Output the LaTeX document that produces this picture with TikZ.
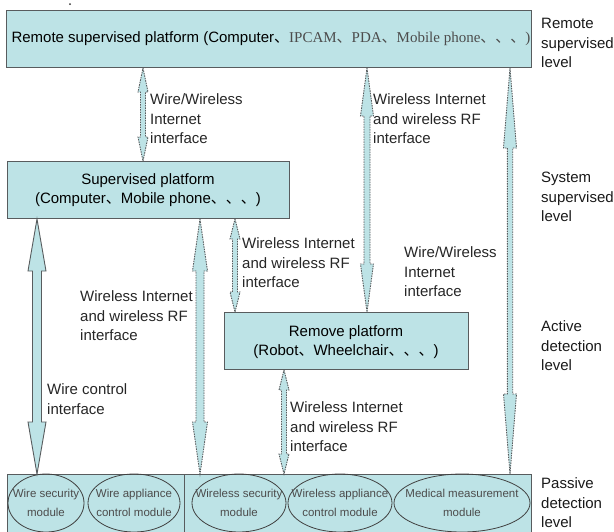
\documentclass[tikz,border=0pt]{standalone}
\usepackage{fontspec}
\setmainfont{Liberation Sans}
\newfontfamily\timespart{Liberation Serif}
\newfontfamily\cjk{Noto Sans CJK SC}
\usetikzlibrary{calc,shapes.geometric}

\definecolor{panel}{RGB}{189,227,230}
\definecolor{edge}{RGB}{88,92,94}

% enumeration comma
\newcommand\dun{{\cjk 、}}

% vertical double-headed block arrow from #2 (upper end) to #3 (lower end)
% #4 half shaft width, #5 half head width, #6 head length
\newcommand\blockarr[6][]{%
  \filldraw[#1] let \p1=#2, \p2=#3 in
    (\x1,\y1) -- (\x1+#5,\y1-#6) -- (\x1+#4,\y1-#6) --
    (\x1+#4,\y2+#6) -- (\x1+#5,\y2+#6) -- (\x1,\y2) --
    (\x1-#5,\y2+#6) -- (\x1-#4,\y2+#6) --
    (\x1-#4,\y1-#6) -- (\x1-#5,\y1-#6) -- cycle;}

\begin{document}
\begin{tikzpicture}[x=1pt,y=-1pt,
  every node/.style={font=\fontsize{15}{19.5}\selectfont, inner sep=0pt},
  panelbox/.style={draw=edge, line width=1pt, fill=panel, anchor=north west, align=center},
  lbl/.style={anchor=west, align=left, text=black!85},
  lvl/.style={anchor=west, align=left, text=black!90},
  dasharr/.style={draw=edge, fill=panel, line width=0.9pt, dash pattern=on 1.5pt off 1pt},
  solidarr/.style={draw=edge, fill=panel, line width=0.9pt},
  moduleshape/.style={ellipse, draw=black!75, line width=0.8pt, minimum height=58},
  moduletext/.style={align=center, text=black!70, font=\fontsize{11.5}{19}\selectfont}
]
\useasboundingbox (0,0) rectangle (614,531);

% stray dot above the top panel
\fill[black!80] (70,4) circle (1pt);

% panels
\node[panelbox, minimum width=525, minimum height=57] (top) at (6,10) {};
\node at (271,39) {Remote supervised platform (Computer\dun{\timespart\color{black!70}IPCAM\dun PDA\dun Mobile phone\dun\dun\dun)}};

\node[panelbox, minimum width=282, minimum height=57] (sup) at (7,161) {};
\node[align=center] at (148,190) {Supervised platform\\(Computer\dun Mobile phone\dun\dun\dun)};

\node[panelbox, minimum width=244, minimum height=57] (rem) at (224,312) {};
\node[align=center] at (346,342) {Remove platform\\(Robot\dun Wheelchair\dun\dun\dun)};

\node[panelbox, minimum width=524, minimum height=70] (field) at (7,474) {};
\draw[edge, line width=1pt] (184,0 |- field.north) -- (184,0 |- field.south);

% detection modules
\node[moduleshape, minimum width=76]  (m1) at (46,503)  {};
\node[moduleshape, minimum width=92]  (m2) at (134,503) {};
\node[moduleshape, minimum width=94]  (m3) at (239,503) {};
\node[moduleshape, minimum width=104] (m4) at (340,503) {};
\node[moduleshape, minimum width=136] (m5) at (462,503) {};
\node[moduletext] at (m1) {Wire security\\module};
\node[moduletext] at (m2) {Wire appliance\\control module};
\node[moduletext] at (m3) {Wireless security\\module};
\node[moduletext] at (m4) {Wireless appliance\\control module};
\node[moduletext] at (m5) {Medical measurement\\module};

% interfaces
\blockarr[dasharr]{(143,0 |- top.south)}{(143,0 |- sup.north)}{2.5pt}{5pt}{24pt}
\blockarr[dasharr]{(367,0 |- top.south)}{(367,0 |- rem.north)}{3pt}{6.5pt}{48pt}
\blockarr[dasharr]{(510,0 |- top.south)}{(510,0 |- field.north)}{2.7pt}{6.5pt}{80pt}
\blockarr[solidarr]{(37,0 |- sup.south)}{(37,0 |- field.north)}{4.5pt}{9pt}{52pt}
\blockarr[dasharr]{(200,0 |- sup.south)}{(200,0 |- field.north)}{4pt}{7.5pt}{52pt}
\blockarr[dasharr]{(235,0 |- sup.south)}{(235,0 |- rem.north)}{2.5pt}{5pt}{20pt}
\blockarr[dasharr]{(284,0 |- rem.south)}{(284,0 |- field.north)}{2.5pt}{5pt}{20pt}

% interface labels
\node[lbl] at (150,119) {Wire/Wireless\\Internet\\interface};
\node[lbl] at (373,119) {Wireless Internet\\and wireless RF\\interface};
\node[lbl] at (404,272) {Wire/Wireless\\Internet\\interface};
\node[lbl] at (80,316)  {Wireless Internet\\and wireless RF\\interface};
\node[lbl] at (242,263) {Wireless Internet\\and wireless RF\\interface};
\node[lbl] at (47,399)  {Wire control\\interface};
\node[lbl] at (290,427) {Wireless Internet\\and wireless RF\\interface};

% level labels
\node[lvl] at (541,43)  {Remote\\supervised\\level};
\node[lvl] at (541,197) {System\\supervised\\level};
\node[lvl] at (541,346) {Active\\detection\\level};
\node[lvl] at (541,503) {Passive\\detection\\level};
\end{tikzpicture}
\end{document}
